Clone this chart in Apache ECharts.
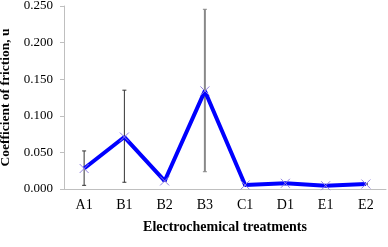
<!DOCTYPE html>
<html><head><meta charset="utf-8">
<script src="https://cdn.jsdelivr.net/npm/echarts@6/dist/echarts.min.js"></script>
<style>html,body{margin:0;padding:0;background:#fff}#c{width:388px;height:247px}</style>
</head><body><div id="c"></div>
<script>
var categories = ['A1','B1','B2','B3','C1','D1','E1','E2'];
var friction = [0.028, 0.071, 0.011, 0.134, 0.0055, 0.0078, 0.0045, 0.0068];
var errLow = [0.005, 0.0092, 0.011, 0.0236, 0.0055, 0.0078, 0.0045, 0.0068];
var errHigh = [0.052, 0.135, 0.011, 0.2455, 0.0055, 0.0078, 0.0045, 0.0068];
var errColors = ['#333','#333','#333','#888','#333','#333','#333','#333'];
var yTicks = [0, 0.05, 0.1, 0.15, 0.2, 0.25];

var errData = categories.map(function(c,i){return [i, errLow[i], errHigh[i]];});
var chart = echarts.init(document.getElementById('c'));
var serif = '"Liberation Serif", "DejaVu Serif", serif';
chart.setOption({
  animation:false,
  grid:{left:64,right:2,top:6,bottom:58,containLabel:false,outerBoundsMode:'none'},
  xAxis:{type:'category',data:categories,boundaryGap:true,
    name:'Electrochemical treatments',nameLocation:'middle',nameGap:31,
    nameTextStyle:{fontFamily:serif,fontWeight:'bold',fontSize:14,color:'#000'},
    axisLine:{lineStyle:{color:'#bfbfbf',width:1}},
    axisTick:{alignWithLabel:true,length:4,lineStyle:{color:'#bfbfbf'}},
    axisLabel:{fontFamily:serif,fontSize:14,color:'#000',margin:9}},
  yAxis:{type:'value',min:yTicks[0],max:yTicks[yTicks.length-1],interval:0.05,
    name:'Coefficient of friction, u',nameLocation:'middle',nameGap:47,
    nameTextStyle:{fontFamily:serif,fontWeight:'bold',fontSize:13.5,color:'#000'},
    axisLine:{show:true,lineStyle:{color:'#bfbfbf',width:1}},
    axisTick:{show:true,length:4,lineStyle:{color:'#bfbfbf'}},
    splitLine:{show:false},
    axisLabel:{fontFamily:serif,fontSize:13,color:'#000',margin:11,formatter:function(v){return v.toFixed(3);}}},
  series:[
    {type:'custom',data:errData,z:1,
      renderItem:function(params,api){
        var i=api.value(0);
        var lo=api.coord([i,api.value(1)]);
        var hi=api.coord([i,api.value(2)]);
        var col=errColors[params.dataIndex];
        var w=2;
        return {type:'group',children:[
          {type:'line',shape:{x1:lo[0],y1:lo[1],x2:hi[0],y2:hi[1]},style:{stroke:col,lineWidth:col==='#888'?2:1}},
          {type:'line',shape:{x1:lo[0]-w,y1:lo[1],x2:lo[0]+w,y2:lo[1]},style:{stroke:col,lineWidth:1}},
          {type:'line',shape:{x1:hi[0]-w,y1:hi[1],x2:hi[0]+w,y2:hi[1]},style:{stroke:col,lineWidth:1}}
        ]};
      }},
    {type:'line',data:friction,z:2,
      lineStyle:{color:'#0000ff',width:4},
      symbol:'path://M0,0L10,10M10,0L0,10',symbolSize:9,
      itemStyle:{color:'none',borderColor:'#9080e0',borderWidth:1}}
  ]
});
</script></body></html>
